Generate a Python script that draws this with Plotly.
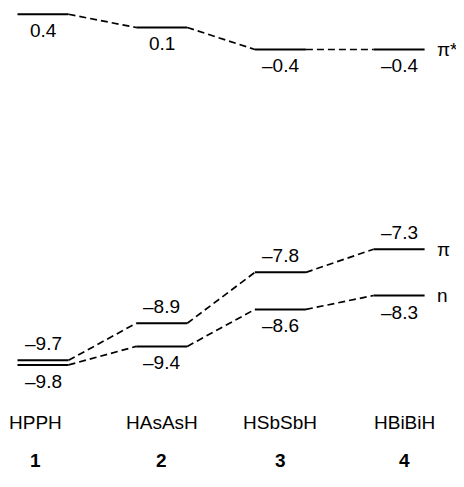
import plotly.graph_objects as go

# ---- data ----
molecules = ["HPPH", "HAsAsH", "HSbSbH", "HBiBiH"]
numbers = ["1", "2", "3", "4"]
pi_star = [0.4, 0.1, -0.4, -0.4]
pi_level = [-9.7, -8.9, -7.8, -7.3]
n_level = [-9.8, -9.4, -8.6, -8.3]
level_names = ["π*", "π", "n"]

xs = list(range(1, len(molecules) + 1))
HW = 0.215  # half-width of a level bar (x units)
FONT = "Liberation Sans, Arial, Helvetica, sans-serif"
FS = 19
W, H = 456, 479  # page body has an 8px margin
name_xshift = [-8, 0, 0, 5]


def fmt(v):
    s = f"{abs(v):.1f}"
    return ("\u2013" + s) if v < 0 else s


def level_traces(vals, yaxis):
    solid_x, solid_y, dash_x, dash_y = [], [], [], []
    for i, (x, v) in enumerate(zip(xs, vals)):
        solid_x += [x - HW, x + HW, None]
        solid_y += [v, v, None]
        if i < len(vals) - 1:
            dash_x += [x + HW, xs[i + 1] - HW, None]
            dash_y += [v, vals[i + 1], None]
    return [
        go.Scatter(x=solid_x, y=solid_y, mode="lines", yaxis=yaxis,
                   line=dict(color="black", width=2), hoverinfo="skip"),
        go.Scatter(x=dash_x, y=dash_y, mode="lines", yaxis=yaxis,
                   line=dict(color="black", width=1.7, dash="7px,4px"),
                   hoverinfo="skip"),
    ]


fig = go.Figure()
for t in level_traces(pi_star, "y2"):
    fig.add_trace(t)
for t in level_traces(pi_level, "y"):
    fig.add_trace(t)
for t in level_traces(n_level, "y"):
    fig.add_trace(t)

ann = []


def value_labels(vals, yref, above):
    for x, v in zip(xs, vals):
        ann.append(dict(x=x, y=v, xref="x", yref=yref, text=fmt(v),
                        showarrow=False, xanchor="center",
                        yanchor="bottom" if above else "top",
                        yshift=4 if above else -4,
                        font=dict(size=FS, color="black", family=FONT)))


value_labels(pi_star, "y2", False)
value_labels(pi_level, "y", True)
value_labels(n_level, "y", False)

# right-hand level names
for name, vals, yref in zip(level_names, [pi_star, pi_level, n_level], ["y2", "y", "y"]):
    ann.append(dict(x=xs[-1] + 0.30, y=vals[-1], xref="x", yref=yref, text=name,
                    showarrow=False, xanchor="left", yanchor="middle",
                    font=dict(size=FS, color="black", family=FONT)))

# molecule names and numbers
for x, m, num, dx in zip(xs, molecules, numbers, name_xshift):
    ann.append(dict(x=x, y=1 - 414 / H, xref="x", yref="paper", text=m,
                    showarrow=False, xanchor="center", yanchor="middle",
                    xshift=dx,
                    font=dict(size=FS, color="black", family=FONT)))
    ann.append(dict(x=x, y=1 - 452 / H, xref="x", yref="paper",
                    text=f"<b>{num}</b>", showarrow=False, xanchor="center",
                    yanchor="middle", xshift=dx,
                    font=dict(size=FS, color="black", family=FONT)))

axis_off = dict(showgrid=False, zeroline=False, showticklabels=False,
                showline=False, ticks="")

fig.update_layout(
    width=W, height=H,
    margin=dict(l=0, r=0, t=0, b=0),
    paper_bgcolor="white", plot_bgcolor="white",
    showlegend=False,
    xaxis=dict(range=[0.705, 4.547], domain=[0, 1], **axis_off),
    yaxis=dict(range=[-10.730, -6.410], domain=[1 - 400 / H, 1 - 200 / H],
               anchor="x", **axis_off),
    yaxis2=dict(range=[-1.048, 0.543], domain=[1 - 70 / H, 1],
                anchor="x", **axis_off),
    annotations=ann,
)

fig.write_html("out.html")
